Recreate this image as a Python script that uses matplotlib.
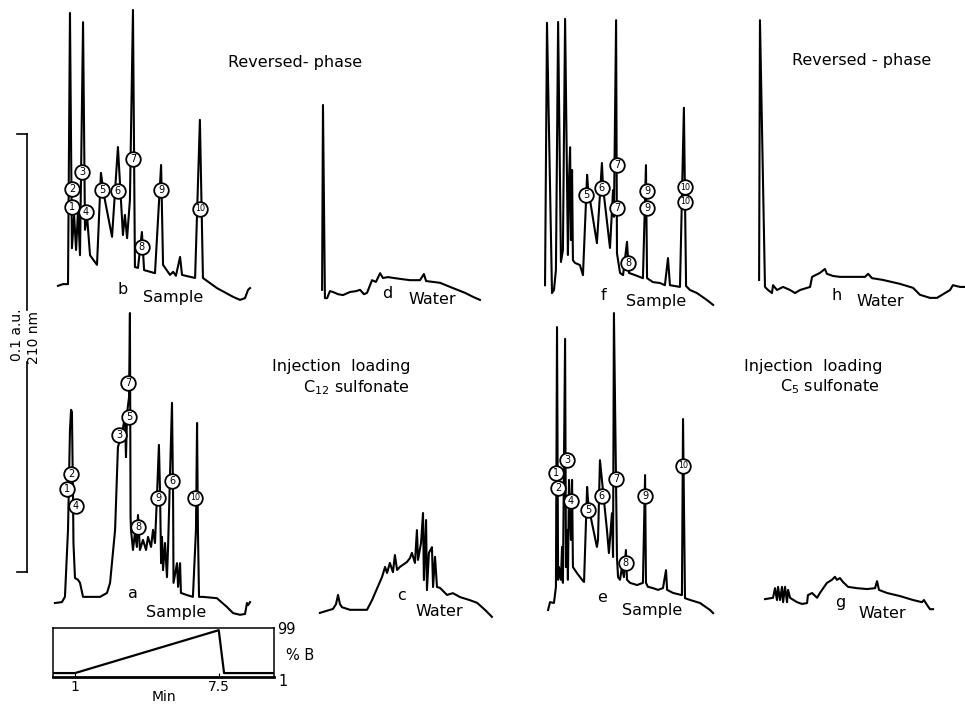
import numpy as np
import matplotlib.pyplot as plt

W, H = 965, 705
PX_PER_MIN = 21.8   # chart speed
PX_PER_MAU = 4.38   # 0.1 a.u. full scale bar = 438 px

# ---- panel b : reversed-phase, sample ----
t_b = [0.32, 0.55, 0.78, 0.87, 0.96, 1.06, 1.15, 1.24, 1.33, 1.47, 1.56, 1.65, 1.79, 2.11, 2.29,
       2.43, 2.80, 3.07, 3.30, 3.39, 3.49, 3.62, 3.76, 3.85, 3.99, 4.17, 4.27, 4.77, 5.05, 5.14,
       5.46, 5.60, 5.73, 5.92, 6.01, 6.61, 6.83, 6.97, 7.61, 8.35, 8.67, 8.90, 9.04, 9.13]
s_b = [-0.2, 0.2, 0.2, 62.1, 8.4, 16.0, 8.0, 17.1, 6.8, 60.0, 12.6, 16.0, 6.8, 4.6, 25.6,
       20.5, 11.0, 31.5, 11.4, 16.0, 10.7, 19.4, 62.8, 4.1, 3.9, 12.1, 3.4, 2.7, 27.4, 4.6,
       2.3, 3.0, 2.1, 6.4, 2.3, 1.6, 37.7, 1.6, -0.7, -2.7, -3.4, -3.0, -1.1, -0.7]
lab_b = [1, 2, 3, 4, 5, 6, 7, 8, 9, 10]
lab_b_t = [0.96, 0.96, 1.42, 1.61, 2.34, 3.07, 3.76, 4.17, 5.05, 6.83]
lab_b_s = [17.8, 21.9, 25.8, 16.7, 21.7, 21.5, 28.8, 8.7, 21.7, 17.4]

# ---- panel a : injection loading C12 sulfonate, sample ----
t_a = [0.18, 0.50, 0.64, 0.78, 0.87, 0.92, 0.96, 1.01, 1.03, 1.10, 1.24, 1.33, 1.47, 1.79, 2.25,
       2.57, 2.71, 2.94, 3.07, 3.26, 3.39, 3.44, 3.49, 3.58, 3.62, 3.65, 3.67, 3.76, 3.85, 3.94,
       3.99, 4.08, 4.22, 4.36, 4.45, 4.59, 4.68, 4.77, 4.86, 4.95, 5.00, 5.05, 5.09, 5.14, 5.23,
       5.32, 5.37, 5.55, 5.60, 5.62, 5.78, 5.83, 5.92, 5.96, 6.24, 6.51, 6.65, 6.70, 6.74, 6.79,
       6.97, 7.61, 8.07, 8.35, 8.67, 8.90, 8.99, 9.04, 9.13]
s_a = [0.0, 0.2, 1.4, 16.7, 39.5, 44.1, 43.6, 24.2, 13.7, 5.7, 5.3, 4.6, 1.4, 1.4, 1.4,
       2.3, 4.6, 16.7, 35.6, 38.8, 42.5, 33.3, 43.4, 47.0, 66.2, 19.6, 16.7, 12.1, 16.0, 12.8,
       20.1, 12.1, 14.4, 12.1, 15.1, 12.8, 16.7, 13.7, 24.2, 36.1, 25.8, 9.1, 15.1, 7.5, 13.7,
       5.9, 12.8, 45.7, 24.2, 4.6, 9.1, 3.7, 9.1, 2.3, 1.8, 1.4, 16.7, 41.1, 16.7, 1.4,
       1.4, 1.1, -0.9, -2.3, -2.7, -2.5, 0.0, -0.5, 0.2]
lab_a = [1, 2, 3, 4, 5, 6, 7, 8, 9, 10]
lab_a_t = [0.73, 0.92, 3.12, 1.15, 3.58, 5.55, 3.53, 3.99, 4.91, 6.61]
lab_a_s = [26.0, 29.5, 38.4, 22.1, 42.5, 27.9, 50.2, 17.4, 24.0, 24.0]

# ---- panel d : reversed-phase, water ----
t_d = [0.83, 0.87, 0.96, 1.06, 1.19, 1.33, 1.56, 1.79, 2.11, 2.39, 2.57, 2.75, 2.89, 3.12,
       3.30, 3.49, 3.62, 3.85, 4.40, 4.86, 5.32, 5.50, 5.60, 6.24, 6.83, 7.39, 7.75, 8.07]
s_d = [0.5, 42.7, -1.4, -1.4, 0.2, 0.0, -0.5, -0.7, 0.0, 0.2, 0.5, -0.5, -0.2, 2.7,
       2.3, 4.3, 3.2, 3.4, 3.0, 2.7, 2.7, 4.1, 2.5, 2.1, 0.9, -0.2, -1.1, -1.8]

# ---- panel c : injection loading C12, water ----
t_c = [0.73, 1.33, 1.47, 1.56, 1.65, 1.74, 2.11, 2.89, 3.12, 3.58, 3.72, 3.81, 3.94, 4.08,
       4.17, 4.27, 4.40, 4.72, 4.86, 4.95, 5.09, 5.18, 5.23, 5.37, 5.46, 5.50, 5.60, 5.64,
       5.73, 5.87, 5.92, 6.01, 6.10, 6.24, 6.56, 6.83, 7.16, 7.61, 7.94, 8.30, 8.62]
s_c = [-0.2, 0.7, 1.8, 3.9, 1.8, 1.1, 0.5, 0.5, 2.7, 8.0, 10.3, 8.9, 11.2, 9.1,
       13.0, 9.6, 10.3, 11.4, 12.3, 13.5, 11.2, 18.7, 11.9, 15.8, 22.6, 7.3, 21.0, 5.0,
       13.5, 14.8, 5.7, 12.6, 5.7, 5.5, 3.9, 4.3, 3.4, 2.7, 2.1, 0.5, -1.1]

# ---- panel f : reversed-phase, sample ----
t_f = [0.46, 0.55, 0.78, 0.87, 0.96, 1.06, 1.19, 1.28, 1.38, 1.51, 1.56, 1.61, 1.65, 1.70,
       1.74, 1.83, 2.06, 2.20, 2.39, 2.43, 2.84, 3.07, 3.12, 3.44, 3.58, 3.62, 3.72, 3.76,
       3.90, 4.04, 4.22, 4.31, 4.59, 4.95, 5.09, 5.14, 5.41, 5.73, 5.96, 6.10, 6.19, 6.65,
       6.83, 6.93, 7.11, 7.43, 7.89, 8.17]
s_f = [1.1, 61.0, -0.7, 0.0, 4.6, 61.2, 6.4, 9.1, 61.9, 8.0, 25.1, 32.6, 11.4, 27.4,
       6.8, 6.2, 5.7, 3.4, 26.3, 23.5, 10.7, 29.0, 23.5, 9.6, 22.8, 16.7, 61.6, 8.4,
       3.9, 3.4, 11.0, 3.9, 3.4, 2.7, 28.5, 2.7, 1.8, 1.6, 1.1, 7.3, 1.1, 0.7,
       41.6, 0.9, 0.0, -0.7, -2.3, -3.4]
lab_f = [5, 6, 7, 7, 8, 9, 9, 10, 10]
lab_f_t = [2.34, 3.07, 3.76, 3.76, 4.27, 5.14, 5.14, 6.88, 6.88]
lab_f_s = [21.7, 23.3, 28.5, 18.7, 6.2, 22.6, 18.7, 23.5, 20.1]

# ---- panel e : injection loading C5 sulfonate, sample ----
t_e = [0.60, 0.69, 0.87, 0.96, 1.01, 1.06, 1.10, 1.19, 1.24, 1.28, 1.38, 1.42, 1.47, 1.51,
       1.56, 1.65, 1.70, 1.74, 1.93, 2.16, 2.25, 2.39, 2.43, 2.52, 2.84, 2.89, 2.98, 3.07,
       3.30, 3.39, 3.53, 3.58, 3.62, 3.76, 3.81, 3.90, 3.99, 4.08, 4.17, 4.22, 4.36, 4.68,
       4.95, 5.05, 5.09, 5.18, 5.41, 5.64, 5.87, 6.01, 6.06, 6.33, 6.74, 6.79, 6.88, 7.11,
       7.57, 8.03, 8.17]
s_e = [-1.6, 0.2, 0.0, 3.7, 63.0, 5.3, 8.2, 5.3, 12.8, 4.6, 60.3, 8.2, 16.7, 5.3,
       28.1, 14.4, 28.1, 8.2, 6.8, 5.3, 4.8, 26.5, 23.5, 20.5, 12.8, 14.4, 32.6, 28.1,
       16.7, 11.4, 20.5, 10.5, 66.2, 10.5, 5.9, 5.3, 8.2, 5.9, 12.1, 5.3, 4.6, 4.1,
       4.6, 29.2, 4.6, 3.7, 3.4, 3.0, 3.4, 7.5, 3.0, 2.3, 1.8, 42.0, 1.1, 0.7,
       0.0, -1.6, -2.3]
lab_e = [1, 2, 3, 4, 5, 6, 7, 8, 9, 10]
lab_e_t = [0.96, 1.06, 1.47, 1.65, 2.43, 3.07, 3.72, 4.17, 5.05, 6.79]
lab_e_s = [29.7, 26.3, 32.6, 23.3, 21.2, 24.4, 28.3, 9.1, 24.4, 31.3]

# ---- panel h : reversed-phase, water ----
t_h = [0.83, 0.87, 1.10, 1.24, 1.42, 1.47, 1.65, 1.93, 2.25, 2.48, 2.71, 3.17, 3.26, 3.62,
       3.85, 3.94, 4.22, 4.54, 5.14, 5.69, 5.83, 6.01, 6.51, 7.29, 7.89, 8.21, 8.67, 8.99,
       9.59, 9.72, 10.05, 10.28]
s_h = [2.3, 61.6, 0.7, 0.0, -0.7, 1.1, 0.0, 0.7, 0.0, -0.7, 0.0, 0.7, 3.0, 3.9,
       4.8, 3.7, 3.2, 3.0, 3.0, 3.0, 3.7, 2.7, 2.3, 1.4, 0.5, -1.1, -1.8, -1.8,
       0.0, 1.1, 0.7, 0.7]

# ---- panel g : injection loading C5, water ----
t_g = [1.10, 1.47, 1.56, 1.65, 1.70, 1.79, 1.88, 1.93, 2.02, 2.11, 2.16, 2.25, 2.57, 2.80,
       3.03, 3.07, 3.26, 3.49, 3.62, 3.94, 4.17, 4.31, 4.40, 4.54, 4.68, 4.91, 5.32, 5.78,
       6.15, 6.24, 6.33, 6.70, 7.29, 7.89, 8.30, 8.39, 8.53, 8.67, 8.81]
s_g = [0.2, 0.5, 2.7, 0.0, 3.0, 0.0, 3.0, -0.5, 3.0, -0.5, 2.3, 0.5, -0.5, -0.9,
       -0.7, 1.1, 1.6, 0.5, 1.6, 3.9, 4.6, 5.3, 4.6, 5.0, 4.1, 3.0, 2.7, 2.5,
       2.7, 4.3, 2.3, 1.6, 0.9, 0.0, -0.5, 0.0, -1.1, -2.1, -2.1]

# gradient program
grad_t = [0, 1, 7.5, 7.74, 10]
grad_b = [1, 1, 99, 1, 1]

SCALE_MAU = 100   # 0.1 a.u.

fig = plt.figure(figsize=(W / 100, H / 100), dpi=100)
fig.patch.set_facecolor('white')


def panel(x0, y0):
    # x0, y0: pixel spot of t=0, signal=0
    ax = fig.add_axes([x0 / W, 1 - (y0 + 5 * PX_PER_MAU) / H,
                       11 * PX_PER_MIN / W, 80 * PX_PER_MAU / H])
    ax.set_xlim(0, 11)
    ax.set_ylim(-5, 75)
    ax.axis('off')
    ax.patch.set_visible(False)
    return ax


def trace(ax, t, s):
    ax.plot(t, s, color='black', lw=1.5, solid_joinstyle='round', clip_on=False)


def circled(ax, nums, t, s):
    ax.plot(t, s, 'o', ms=10.5, mfc='white', mec='black', mew=1.3, clip_on=False, zorder=4)
    for n, x, y in zip(nums, t, s):
        ax.text(x, y, str(n), ha='center', va='center', zorder=5,
                fontsize=7 if n < 10 else 5.8)


def ftext(x, y, s, **kw):
    kw.setdefault('fontsize', 11.5)
    kw.setdefault('ha', 'center')
    kw.setdefault('va', 'center')
    fig.text(x / W, 1 - y / H, s, **kw)


ax_b = panel(51, 285)
trace(ax_b, t_b, s_b)
circled(ax_b, lab_b, lab_b_t, lab_b_s)

ax_a = panel(51, 603)
trace(ax_a, t_a, s_a)
circled(ax_a, lab_a, lab_a_t, lab_a_s)

# scale bar drawn in panel a units
bar_t, tick_t = -1.10, -1.56
bar_lo, gap_lo, gap_hi = 7.1, 55.0, 66.9
bar_hi = bar_lo + SCALE_MAU
kw = dict(color='black', lw=1.2, clip_on=False)
ax_a.plot([bar_t, bar_t], [bar_lo, gap_lo], **kw)
ax_a.plot([bar_t, bar_t], [gap_hi, bar_hi], **kw)
ax_a.plot([tick_t, bar_t], [bar_lo, bar_lo], **kw)
ax_a.plot([tick_t, bar_t], [bar_hi, bar_hi], **kw)

ax_d = panel(304, 292)
trace(ax_d, t_d, s_d)

ax_c = panel(304, 612)
trace(ax_c, t_c, s_c)

ax_f = panel(535, 290)
trace(ax_f, t_f, s_f)
circled(ax_f, lab_f, lab_f_t, lab_f_s)

ax_e = panel(535, 603)
trace(ax_e, t_e, s_e)
circled(ax_e, lab_e, lab_e_t, lab_e_s)

ax_h = panel(741, 290)
trace(ax_h, t_h, s_h)

ax_g = panel(741, 600)
trace(ax_g, t_g, s_g)

# gradient profile box
ax_gr = fig.add_axes([53 / W, 28 / H, 221 / W, 49 / H])
ax_gr.plot(grad_t, grad_b, color='black', lw=1.6)
ax_gr.set_xlim(0, 10)
ax_gr.set_ylim(-8, 104)
ax_gr.set_yticks([])
ax_gr.set_xticks([1, 7.5])
ax_gr.set_xticklabels(['1', '7.5'], fontsize=10)
ax_gr.tick_params(axis='x', direction='in', length=3, pad=2)
ax_gr.set_xlabel('Min', fontsize=10, labelpad=-3)
for sp in ax_gr.spines.values():
    sp.set_linewidth(1.1)
ax_gr.spines['bottom'].set_linewidth(2.0)

ftext(277, 630, '99', ha='left', fontsize=10.5)
ftext(286, 655, '% B', ha='left', fontsize=10.5)
ftext(278, 681, '1', ha='left', fontsize=10.5)

# axis scale text
ftext(17, 335, '0.1 a.u.', rotation=90, fontsize=10)
ftext(34, 338, '210 nm', rotation=90, fontsize=10)

# titles
ftext(295, 63, 'Reversed- phase')
ftext(862, 61, 'Reversed - phase')
ftext(410, 367, 'Injection  loading', ha='right')
ftext(410, 388, 'C$_{12}$ sulfonate', ha='right')
ftext(882, 367, 'Injection  loading', ha='right')
ftext(880, 387, 'C$_5$ sulfonate', ha='right')

# panel letters and captions
ftext(123, 290, 'b')
ftext(173, 297, 'Sample')
ftext(133, 593, 'a')
ftext(176, 612, 'Sample')
ftext(387, 294, 'd')
ftext(432, 300, 'Water')
ftext(402, 595, 'c')
ftext(439, 612, 'Water')
ftext(603, 296, 'f')
ftext(656, 302, 'Sample')
ftext(602, 597, 'e')
ftext(652, 610, 'Sample')
ftext(837, 296, 'h')
ftext(880, 302, 'Water')
ftext(840, 602, 'g')
ftext(882, 613, 'Water')

fig.savefig('out.png', dpi=100, facecolor='white')
